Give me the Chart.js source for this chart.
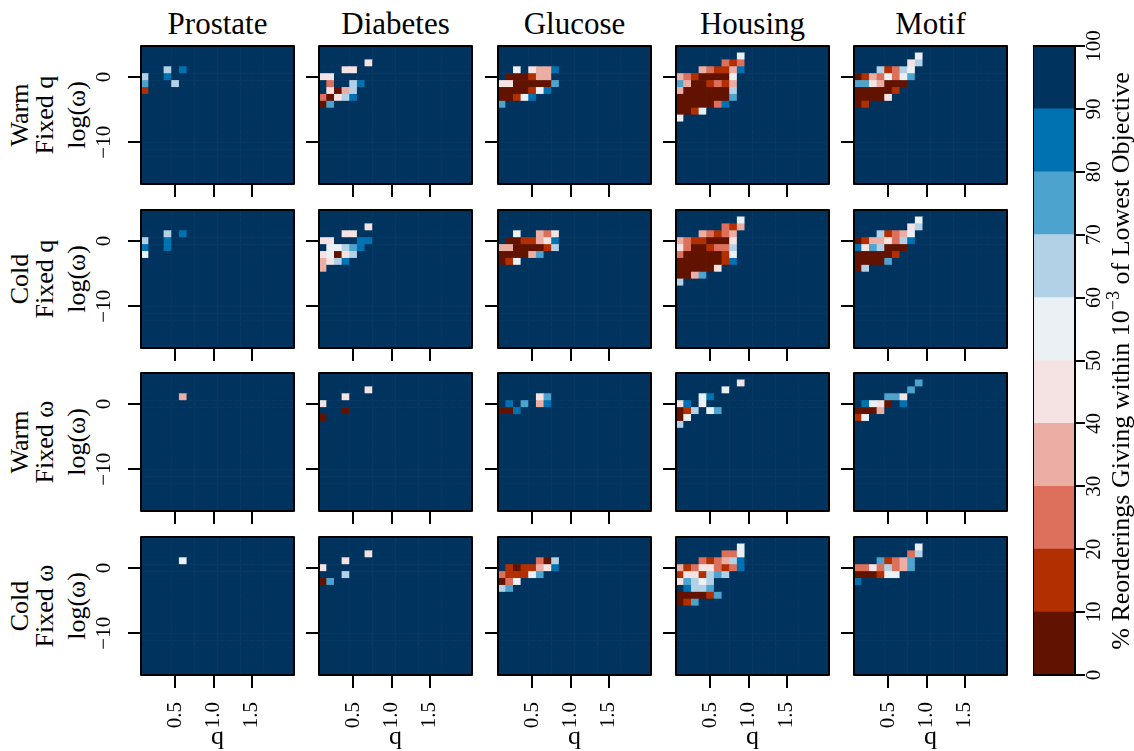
<!DOCTYPE html>
<html lang="en">
<head>
<meta charset="UTF-8" />
<title>Reorderings heatmaps</title>
<script src="https://cdn.jsdelivr.net/npm/chart.js"></script>
<style>
  body {
    margin: 0;
    width: 1134px;
    height: 751px;
    overflow: hidden;
    position: relative;
    background: #fff;
    color: #000;
    font-family: 'Liberation Serif', 'Times New Roman', serif;
  }
  canvas { position: absolute; }
  .colTitle {
    position: absolute;
    width: 200px;
    text-align: center;
    font-size: 31px;
    line-height: 36px;
    white-space: nowrap;
  }
  .rotLabel {
    position: absolute;
    height: 30px;
    line-height: 30px;
    text-align: center;
    font-size: 26px;
    white-space: nowrap;
    transform: rotate(-90deg);
  }
  .rotLabel sup { font-size: 0.7em; line-height: 0; }
</style>
</head>
<body>
<script>
const FONT = "'Liberation Serif', 'Times New Roman', serif";

// figure columns and rows
const datasetNames = ['Prostate', 'Diabetes', 'Glucose', 'Housing', 'Motif'];
const startLabels = ['Warm', 'Cold', 'Warm', 'Cold'];
const fixedLabels = ['Fixed q', 'Fixed q', 'Fixed ω', 'Fixed ω'];

// heatmap grid: q across, log(omega) down (cell centres)
const qValues = [0.1, 0.2, 0.3, 0.4, 0.5, 0.6, 0.7, 0.8, 0.9, 1.0, 1.1, 1.2, 1.3, 1.4, 1.5, 1.6, 1.7, 1.8, 1.9, 2.0];
const logOmegaValues = [4.23, 3.18, 2.12, 1.06, 0, -1.06, -2.12, -3.18, -4.23, -5.29, -6.35, -7.41, -8.47, -9.53, -10.59, -11.65, -12.70, -13.76, -14.82, -15.88];
const qTicks = [0.5, 1.0, 1.5];
const logOmegaTicks = [0, -10];

// colour bins, % of reorderings within 1e-3 of the lowest objective
const binEdges = [0, 10, 20, 30, 40, 50, 60, 70, 80, 90, 100];
const binColors = ['#621300', '#b12f00', '#dc705c', '#ebaea4', '#f4e3e2', '#ebf0f4', '#b3d1e6', '#4ca3cd', '#0071b1', '#00345f'];

// cell bins, one string per log(omega) row from the top, one digit per q column from q = 0.1
// digit d = bin d (10d..10d+10 %); every cell not listed reads as bin 9 (90-100 %)
const prostateWarmQ = ['9999999999', '9999999999', '9999999999', '9996989999', '6998999999', '7999699999', '1999999999'];
const diabetesWarmQ = ['9999999999', '9999999999', '9999994999', '9994499999', '4499999999', '9299689999', '9403699999', '2046899999', '0799999999'];
const glucoseWarmQ = ['9999999999', '9999999999', '9999999999', '9959433899', '9000133999', '4400000799', '0000158999', '0015899999', '7999999999'];
const housingWarmQ = ['9999999999', '9999999959', '9999992129', '9993211389', '3210000599', '7300121399', '3000000699', '0000000799', '0000028999', '0015999999', '5999999999'];
const motifWarmQ = ['9999999999', '9999999959', '9999999469', '9996126599', '0132525799', '7743000999', '0000019999', '0000499999', '0199999999'];

const prostateColdQ = ['9999999999', '9999999999', '9999999999', '9996989999', '6998999999', '8998999999', '5999999999'];
const diabetesColdQ = ['9999999999', '9999999999', '9999994999', '9994499999', '4499988999', '9556789999', '4504699999', '3468999999', '3999999999'];
const glucoseColdQ = ['9999999999', '9999999999', '9999999999', '9959932499', '9001134899', '3300001699', '0000379999', '0159999999'];
const housingColdQ = ['9999999999', '9999999959', '9999992139', '9993212399', '3211000499', '4200122699', '2000001599', '0000001899', '0000049999', '0037999999', '6999999999'];
const motifColdQ = ['9999999999', '9999999959', '9999999469', '9996123599', '0133426899', '8476000999', '0000019999', '0000799999', '0699999999'];

const prostateWarmW = ['9999999999', '9999999999', '9999999999', '9999939999'];
const diabetesWarmW = ['9999999999', '9999999999', '9999994999', '9994999999', '4999999999', '9990999999', '0999999999'];
const glucoseWarmW = ['9999999999', '9999999999', '9999999999', '9999947999', '9897938999', '0089999999'];
const housingWarmW = ['9999999999', '9999999949', '9999995999', '9995899999', '4895999999', '0169579999', '0599999999', '6999999999'];
const motifWarmW = ['9999999999', '9999999979', '9999999799', '9999774999', '9854098999', '0003999999', '1599999999'];

const prostateColdW = ['9999999999', '9999999999', '9999999999', '9999959999'];
const diabetesColdW = ['9999999999', '9999999999', '9999994999', '9994999999', '4999999999', '9996999999', '0799999999'];
const glucoseColdW = ['9999999999', '9999999999', '9999999999', '9999920699', '9101134899', '2111579999', '0259999999', '6799999999'];
const housingColdW = ['9999999999', '9999999959', '9999992259', '9992123689', '3124421289', '1441676999', '4765699999', '9866799999', '0000179999', '0179999999'];
const motifColdW = ['9999999999', '9999999959', '9999999269', '9997123799', '2242623799', '0001559999', '8999999999'];

const panelGrids = [
  [prostateWarmQ, diabetesWarmQ, glucoseWarmQ, housingWarmQ, motifWarmQ],
  [prostateColdQ, diabetesColdQ, glucoseColdQ, housingColdQ, motifColdQ],
  [prostateWarmW, diabetesWarmW, glucoseWarmW, housingWarmW, motifWarmW],
  [prostateColdW, diabetesColdW, glucoseColdW, housingColdW, motifColdW]
];

// page layout (plot areas)
const plotLeft = [141, 319, 498, 676, 854];
const plotTop = [46, 210, 373, 537];
const plotW = 153, plotH = 138;
const yAxisW = 50, pad = 4;

Chart.defaults.font.family = FONT;
Chart.defaults.color = '#000';

// cell edges from the grid centres
const nRows = logOmegaValues.length;
const qStep = qValues[1] - qValues[0];
const qMin = qValues[0] - qStep / 2;
const qMax = qValues[qValues.length - 1] + qStep / 2;
const wMax = logOmegaValues[0] + (logOmegaValues[0] - logOmegaValues[1]) / 2;
const wMin = logOmegaValues[nRows - 1] - (logOmegaValues[nRows - 2] - logOmegaValues[nRows - 1]) / 2;

function cellData(grid) {
  const cells = [];
  logOmegaValues.forEach((w, r) => {
    const hi = r === 0 ? wMax : (w + logOmegaValues[r - 1]) / 2;
    const lo = r === nRows - 1 ? wMin : (w + logOmegaValues[r + 1]) / 2;
    const row = grid[r] || '';
    qValues.forEach((q, c) => {
      const bin = c < row.length ? Number(row[c]) : 9;
      cells.push({ x: q, y: [lo, hi], bin: bin });
    });
  });
  return cells;
}

const frame = {
  id: 'frame',
  afterDraw(chart) {
    const { ctx, chartArea: a } = chart;
    ctx.save();
    ctx.strokeStyle = '#000';
    ctx.lineWidth = 2;
    ctx.lineJoin = 'round';
    ctx.strokeRect(a.left, a.top, a.right - a.left, a.bottom - a.top);
    ctx.restore();
  }
};

function addCanvas(left, top, width, height) {
  const c = document.createElement('canvas');
  c.width = width;
  c.height = height;
  c.style.left = left + 'px';
  c.style.top = top + 'px';
  c.style.width = width + 'px';
  c.style.height = height + 'px';
  document.body.appendChild(c);
  return c;
}

function addLabel(cls, html, cx, cy, width) {
  const d = document.createElement('div');
  d.className = cls;
  d.innerHTML = html;
  d.style.width = width + 'px';
  d.style.left = (cx - width / 2) + 'px';
  d.style.top = (cy - 15) + 'px';
  document.body.appendChild(d);
}

const minus = v => (v < 0 ? '\u2212' + Math.abs(v) : String(v));

// column titles
datasetNames.forEach((name, j) => {
  const d = document.createElement('div');
  d.className = 'colTitle';
  d.textContent = name;
  d.style.left = (plotLeft[j] + plotW / 2 - 100) + 'px';
  d.style.top = '6px';
  document.body.appendChild(d);
});

// row labels
startLabels.forEach((s, i) => {
  const cy = plotTop[i] + plotH / 2;
  addLabel('rotLabel', s, 20, cy, 160);
  addLabel('rotLabel', fixedLabels[i], 45, cy, 160);
  addLabel('rotLabel', 'log(ω)', 77, cy, 160);
});

// heatmap panels
panelGrids.forEach((rowGrids, i) => {
  rowGrids.forEach((grid, j) => {
    const last = i === panelGrids.length - 1;
    const first = j === 0;
    const hx = last ? 75 : 20;
    const canvas = addCanvas(plotLeft[j] - yAxisW, plotTop[i] - pad, yAxisW + plotW + pad, pad + plotH + hx);
    new Chart(canvas, {
      type: 'bar',
      data: {
        datasets: [{
          label: datasetNames[j],
          data: cellData(grid),
          backgroundColor: ctx => binColors[ctx.raw ? ctx.raw.bin : 9],
          borderWidth: 0,
          barPercentage: 1,
          categoryPercentage: 1
        }]
      },
      options: {
        responsive: false,
        animation: false,
        events: [],
        layout: { padding: { top: pad, right: pad, left: 0, bottom: 0 } },
        plugins: { legend: { display: false }, tooltip: { enabled: false } },
        scales: {
          x: {
            type: 'linear',
            min: qMin,
            max: qMax,
            offset: false,
            afterBuildTicks: s => { s.ticks = qTicks.map(v => ({ value: v })); },
            afterFit: s => { s.height = hx; s.paddingLeft = 0; s.paddingRight = 0; },
            border: { display: false },
            grid: { offset: false, drawOnChartArea: false, drawTicks: true, tickLength: 13, lineWidth: 2, tickWidth: 2, tickColor: '#000' },
            ticks: {
              display: last,
              minRotation: 90,
              maxRotation: 90,
              padding: 14,
              color: '#000',
              font: { family: FONT, size: 21 },
              callback: v => Number(v).toFixed(1)
            },
            title: {
              display: last,
              text: 'q',
              color: '#000',
              padding: 0,
              font: { family: FONT, size: 26, lineHeight: 1 }
            }
          },
          y: {
            type: 'linear',
            min: wMin,
            max: wMax,
            afterBuildTicks: s => { s.ticks = logOmegaTicks.map(v => ({ value: v })); },
            afterFit: s => { s.width = yAxisW; s.paddingTop = 0; s.paddingBottom = 0; },
            border: { display: false },
            grid: { drawOnChartArea: false, drawTicks: true, tickLength: 13, lineWidth: 2, tickWidth: 2, tickColor: '#000' },
            ticks: {
              display: first,
              minRotation: 90,
              maxRotation: 90,
              crossAlign: 'center',
              padding: 7,
              color: '#000',
              font: { family: FONT, size: 21 },
              callback: v => minus(v)
            }
          }
        }
      },
      plugins: [frame]
    });
  });
});

// colour bar
const cbLeft = 1033, cbW = 42, cbAxisW = 50, cbPad = 20;
const cbTop = plotTop[0], cbH = plotTop[3] + plotH - plotTop[0];
const cbCanvas = addCanvas(cbLeft, cbTop - cbPad, cbW + cbAxisW, cbH + 2 * cbPad);
new Chart(cbCanvas, {
  type: 'bar',
  data: {
    labels: [''],
    datasets: binColors.map((color, k) => ({
      label: binEdges[k] + '-' + binEdges[k + 1] + '%',
      data: [binEdges[k + 1] - binEdges[k]],
      backgroundColor: color,
      borderWidth: 0,
      barPercentage: 1,
      categoryPercentage: 1
    }))
  },
  options: {
    responsive: false,
    animation: false,
    events: [],
    layout: { padding: { top: cbPad, bottom: cbPad, left: 0, right: 0 } },
    plugins: { legend: { display: false }, tooltip: { enabled: false } },
    scales: {
      x: { stacked: true, display: false },
      y: {
        stacked: true,
        position: 'right',
        min: binEdges[0],
        max: binEdges[binEdges.length - 1],
        afterBuildTicks: s => { s.ticks = binEdges.map(v => ({ value: v })); },
        afterFit: s => { s.width = cbAxisW; s.paddingTop = 0; s.paddingBottom = 0; },
        border: { display: false },
        grid: { drawOnChartArea: false, drawTicks: true, tickLength: 10, lineWidth: 2, tickWidth: 2, tickColor: '#000' },
        ticks: {
          minRotation: 90,
          maxRotation: 90,
          crossAlign: 'center',
          padding: -6,
          color: '#000',
          font: { family: FONT, size: 21 }
        }
      }
    }
  },
  plugins: [frame]
});

addLabel('rotLabel', '% Reorderings Giving within 10<sup>\u22123</sup> of Lowest Objective', 1121, cbTop + cbH / 2, 720);
</script>
</body>
</html>
